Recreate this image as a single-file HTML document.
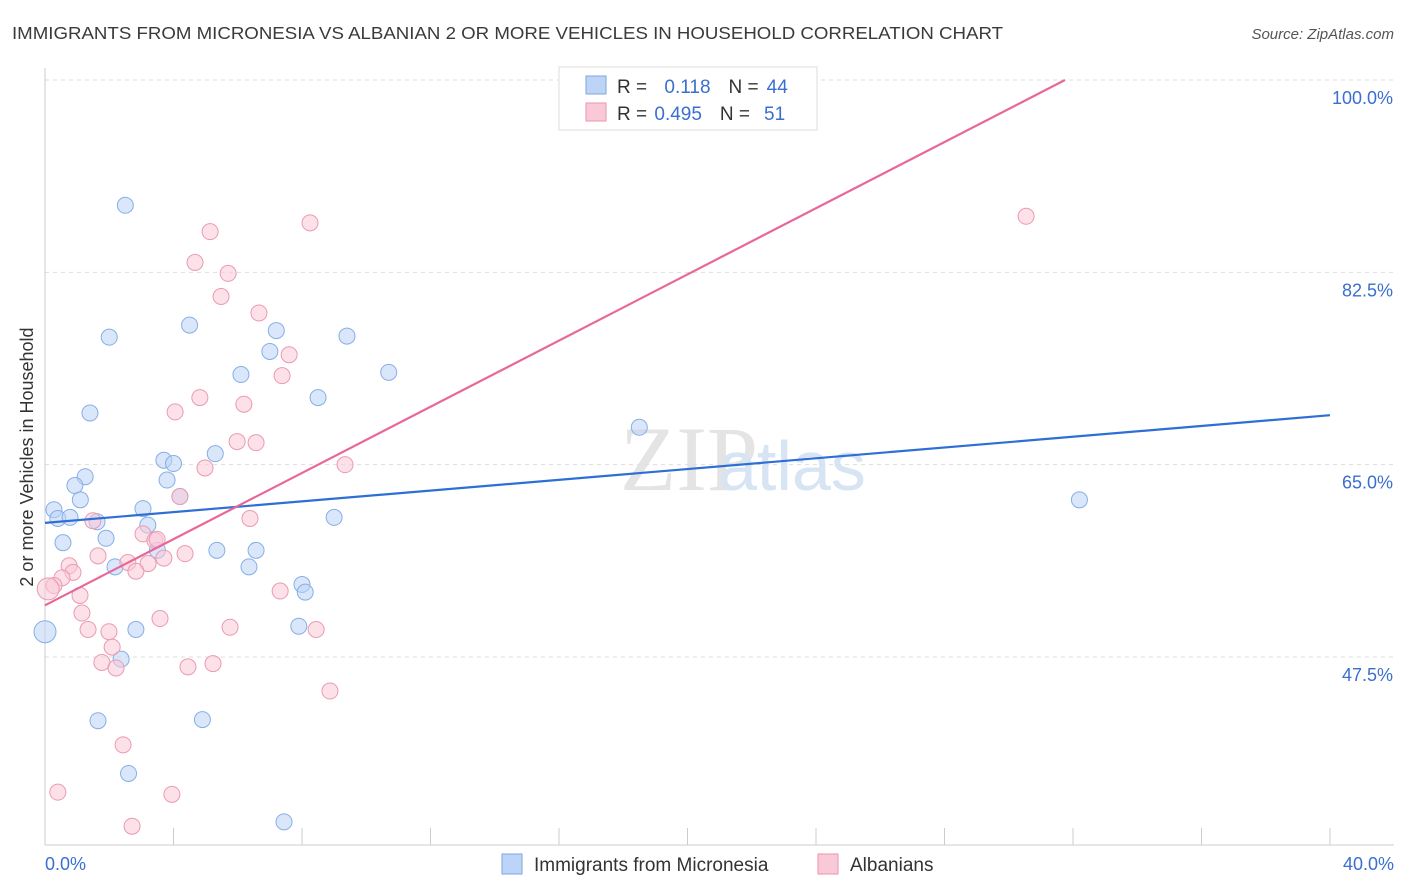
<!DOCTYPE html>
<html><head><meta charset="utf-8"><style>
body{margin:0;background:#fff;font-family:"Liberation Sans",sans-serif}
svg{display:block}
</style></head><body>
<svg id="c" width="1406" height="892">
<text x="12" y="39" font-size="17.5" fill="#3a3a3a" textLength="991" lengthAdjust="spacingAndGlyphs">IMMIGRANTS FROM MICRONESIA VS ALBANIAN 2 OR MORE VEHICLES IN HOUSEHOLD CORRELATION CHART</text>
<text x="1394" y="39" font-size="15" fill="#555" font-style="italic" text-anchor="end">Source: ZipAtlas.com</text>
<text x="620" y="490" font-size="92" fill="#e4e4e4" font-family="Liberation Serif,serif">ZIP</text>
<text x="718" y="490" font-size="70" fill="#d6e4f4">atlas</text>
<text transform="translate(33,457) rotate(-90)" font-size="18" fill="#333" text-anchor="middle">2 or more Vehicles in Household</text>
<g id="grid"></g><g id="pts"></g><g id="lines"></g>
<g>
<rect x="559" y="67" width="258" height="63" fill="#fff" stroke="#ddd"/>
<rect x="586" y="76" width="20" height="18" fill="#bcd4f6" stroke="#7ea6e0"/>
<rect x="586" y="103" width="20" height="18" fill="#f9c9d7" stroke="#eb95b0"/>
<text x="617" y="93" font-size="19" fill="#333">R = <tspan fill="#3a6fd0" dx="12">0.118</tspan><tspan dx="18" fill="#333">N =</tspan><tspan dx="8" fill="#3a6fd0">44</tspan></text>
<text x="617" y="120" font-size="19" fill="#333">R = <tspan fill="#3a6fd0" dx="2">0.495</tspan><tspan dx="18" fill="#333">N =</tspan><tspan dx="14" fill="#3a6fd0">51</tspan></text>
</g>
<g>
<rect x="502" y="854" width="20" height="20" fill="#bcd4f6" stroke="#7ea6e0"/>
<text x="534" y="871" font-size="19" fill="#333">Immigrants from Micronesia</text>
<rect x="818" y="854" width="20" height="20" fill="#f9c9d7" stroke="#eb95b0"/>
<text x="850" y="871" font-size="19" fill="#333">Albanians</text>
</g>
</svg>
<script>
const yTicks=[100,82.5,65,47.5];
const yTickLabels=["100.0%","82.5%","65.0%","47.5%"];
const xTickLabels=["0.0%","40.0%"];
const blueX=[2.5,2.0,4.5,7.2,7.0,9.4,6.1,10.7,1.4,8.5,18.5,5.3,3.7,4.0,1.25,3.8,0.93,1.1,4.2,0.28,3.05,0.4,0.78,1.62,3.2,0.56,1.9,3.5,5.35,6.57,2.18,6.35,8.0,8.1,9.0,32.2,0,2.83,7.9,2.37,1.65,4.9,2.6,7.44];
const blueY=[88.6,76.6,77.7,77.2,75.3,76.7,73.2,73.4,69.7,71.1,68.4,66.0,65.4,65.1,63.9,63.6,63.1,61.8,62.1,60.9,61.0,60.1,60.2,59.8,59.5,57.9,58.3,57.2,57.2,57.2,55.7,55.7,54.1,53.4,60.2,61.8,49.8,50.0,50.3,47.3,41.7,41.8,36.9,32.5];
const pinkX=[8.25,30.54,5.14,4.67,5.7,5.48,6.66,7.6,7.38,4.82,4.05,6.19,5.98,6.57,4.98,9.34,4.2,1.49,6.38,3.05,3.42,3.49,1.65,4.36,2.58,3.7,3.21,0.75,0.87,2.83,0.53,0.28,0.1,1.09,7.32,1.15,3.58,1.34,1.99,5.76,8.44,2.09,1.77,2.21,4.45,5.23,8.87,2.43,0.4,3.95,2.71];
const pinkY=[87.0,87.6,86.2,83.4,82.4,80.3,78.8,75.0,73.1,71.1,69.8,70.5,67.1,67.0,64.7,65.0,62.1,59.9,60.1,58.7,58.1,58.2,56.7,56.9,56.1,56.5,56.0,55.8,55.2,55.3,54.7,54.0,53.7,53.1,53.5,51.5,51.0,50.0,49.8,50.2,50.0,48.4,47.0,46.5,46.6,46.9,44.4,39.5,35.2,35.0,32.1];
const blueTrend=[59.7,69.5];
const pinkTrend=[52.2,100];
const NS="http://www.w3.org/2000/svg";
const xs=v=>45+v*32.125, ys=v=>80+(100-v)*10.99;
function mk(t,a,p){const e=document.createElementNS(NS,t);for(const k in a)e.setAttribute(k,a[k]);p.appendChild(e);return e;}
const grid=document.getElementById('grid');
yTicks.forEach((t,i)=>{
 const l=mk('line',{x1:45,x2:1394,y1:ys(t),y2:ys(t),stroke:'#ddd','stroke-dasharray':'4,4'},grid);
 
 
 const tx=mk('text',{x:1393,y:ys(t)+24,'font-size':18,fill:'#3a6fd0','text-anchor':'end'},grid);
 tx.textContent=yTickLabels[i];
 
 
});
const ax=mk('line',{x1:45,x2:45,y1:68,y2:845,stroke:'#ccc'},grid);


const bx=mk('line',{x1:45,x2:1394,y1:845,y2:845,stroke:'#ccc'},grid);


for(let i=0;i<=10;i++){
 const t=mk('line',{x1:xs(i*4),x2:xs(i*4),y1:828,y2:845,stroke:'#ccc'},grid);
 
 
}
[[0,'start',45],[40,'end',1394]].forEach((d,i)=>{
 const tx=mk('text',{x:d[2],y:870,'font-size':18,fill:'#3a6fd0','text-anchor':d[1]},grid);
 tx.textContent=xTickLabels[i];
 
 
});
const pts=document.getElementById('pts');
function drawPts(X,Y,fill,stroke,name){
 X.forEach((x,i)=>{
  const r=x<0.15?11:8;
  const c=mk('circle',{cx:xs(x),cy:ys(Y[i]),r:r,fill:fill,'fill-opacity':0.55,stroke:stroke,'stroke-width':1},pts);
  
  
 });
}
drawPts(blueX,blueY,'#bcd4f6','#86aee6','micronesia-point');
drawPts(pinkX,pinkY,'#f9c9d7','#eb9ab3','albanian-point');
const lines=document.getElementById('lines');
const bl=mk('line',{x1:xs(0),y1:ys(blueTrend[0]),x2:xs(40),y2:ys(blueTrend[1]),stroke:'#2e6fd6','stroke-width':2.2},lines);


const slope=(pinkTrend[1]-pinkTrend[0])/31.75;
const xEnd=(100-pinkTrend[0])/slope;
const pl=mk('line',{x1:xs(0),y1:ys(pinkTrend[0]),x2:xs(xEnd),y2:ys(100),stroke:'#e8679a','stroke-width':2.2},lines);


</script>
</body></html>
